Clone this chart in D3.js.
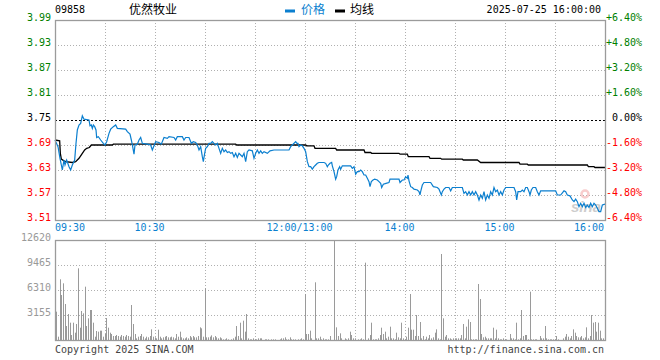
<!DOCTYPE html>
<html>
<head>
<meta charset="utf-8">
<script src="https://cdn.jsdelivr.net/npm/d3@7"></script>
<style>
  body { margin: 0; background: #fff; }
  text { font-family: "DejaVu Sans Mono", monospace; font-size: 10px; }
  .cjk { font-family: "Noto Sans CJK SC", sans-serif; font-size: 12px; }
</style>
</head>
<body>
<div id="chart"></div>
<script>
// chart values
var stockCode = "09858";
var stockName = "优然牧业";
var stamp = "2025-07-25 16:00:00";
var prevClose = 3.75;

var priceTicks = [3.99, 3.93, 3.87, 3.81, 3.75, 3.69, 3.63, 3.57, 3.51];
var pctTicks = ["+6.40%", "+4.80%", "+3.20%", "+1.60%", "0.00%", "-1.60%", "-3.20%", "-4.80%", "-6.40%"];
var volTicks = [12620, 9465, 6310, 3155];
var timeLabels = ["09:30", "10:30", "12:00/13:00", "14:00", "15:00", "16:00"];
var timeLabelMin = [0, 60, 150, 210, 270, 330];

// [trading minute, price]
var priceLine = [
  [0, 3.702], [1.8, 3.686], [3, 3.658], [3.8, 3.642], [4.4, 3.630], [5.4, 3.654], [6, 3.642], [7, 3.654],
  [8.4, 3.638], [9.4, 3.630], [10.4, 3.642], [11.8, 3.654], [12.6, 3.694], [13.4, 3.726], [14.4, 3.738],
  [15.4, 3.742], [16.4, 3.760], [17.4, 3.752], [20.4, 3.750], [21, 3.736], [21.8, 3.738], [22.4, 3.730],
  [23, 3.738], [23.8, 3.734], [24.6, 3.726], [25, 3.708], [26, 3.710], [27.4, 3.702], [29, 3.694],
  [30, 3.690], [31, 3.698], [32.4, 3.718], [33.4, 3.728], [35, 3.734], [36.4, 3.738], [37.4, 3.730],
  [42.4, 3.728], [43.4, 3.722], [45, 3.716], [45.8, 3.702], [46.6, 3.686], [47.4, 3.668], [48, 3.690],
  [49.4, 3.692], [50.4, 3.702], [51.4, 3.708], [52.4, 3.694], [55.4, 3.692], [57.4, 3.690], [58.4, 3.678],
  [59.4, 3.688], [60.4, 3.698], [62.4, 3.696], [63.8, 3.692], [65.4, 3.708], [67.4, 3.706], [68.4, 3.710],
  [71.4, 3.708], [72.4, 3.702], [73.4, 3.710], [76.4, 3.710], [77.4, 3.702], [78.4, 3.708], [80.4, 3.708],
  [81.8, 3.694], [83, 3.698], [84.4, 3.696], [85.4, 3.690], [86.4, 3.678], [87.4, 3.686], [88.4, 3.662],
  [89, 3.650], [89.8, 3.670], [90.4, 3.682], [91.4, 3.686], [92.4, 3.694], [93.4, 3.694], [94.4, 3.698],
  [95.4, 3.694], [96.4, 3.690], [97.4, 3.694], [98.4, 3.682], [99.4, 3.670], [100.4, 3.682], [101.4, 3.674],
  [102.4, 3.678], [103.4, 3.672], [104.4, 3.674], [105.4, 3.670], [106.4, 3.672], [107.4, 3.662],
  [108.4, 3.670], [109.4, 3.660], [110.4, 3.670], [111.4, 3.666], [112.4, 3.662], [113.4, 3.670],
  [114.4, 3.650], [115.4, 3.674], [116.4, 3.678], [118.4, 3.676], [119.4, 3.658], [120.4, 3.670],
  [121.4, 3.678], [122.4, 3.670], [123.4, 3.676], [124.4, 3.670], [125.4, 3.674], [127.4, 3.670],
  [129, 3.676], [131.4, 3.678], [140.4, 3.678], [141.4, 3.686], [142.4, 3.690], [144.4, 3.698],
  [145.2, 3.694], [145.8, 3.694], [146.4, 3.686], [147.4, 3.690], [148.4, 3.688], [149.4, 3.682],
  [150.4, 3.674], [151.4, 3.650], [152.4, 3.638], [153.4, 3.638], [154.4, 3.632], [155.4, 3.638],
  [156.4, 3.642], [157.4, 3.646], [158.4, 3.648], [161.4, 3.648], [162.4, 3.646], [163.4, 3.638],
  [164, 3.642], [165, 3.646], [166, 3.648], [166.4, 3.640], [167.4, 3.626], [168.4, 3.608], [169, 3.614],
  [169.8, 3.630], [170.8, 3.638], [171.4, 3.632], [172.4, 3.640], [177.4, 3.640], [178.4, 3.634],
  [179.4, 3.638], [180.4, 3.620], [181.4, 3.626], [182.4, 3.626], [183.4, 3.630], [184.4, 3.626],
  [185.4, 3.618], [186.4, 3.618], [187.4, 3.610], [188.4, 3.602], [189, 3.590], [189.8, 3.602],
  [190.8, 3.606], [191.8, 3.608], [193.4, 3.606], [194.4, 3.602], [195.4, 3.598], [196, 3.588],
  [197, 3.596], [198.6, 3.598], [200.4, 3.600], [201, 3.608], [206.4, 3.608], [207, 3.600], [208.4, 3.606],
  [209.4, 3.606], [210.4, 3.614], [211.4, 3.610], [211.8, 3.618], [212.4, 3.604], [213.4, 3.590],
  [214.4, 3.588], [215.4, 3.584], [217.4, 3.582], [218.4, 3.578], [219, 3.570], [219.4, 3.578],
  [220.4, 3.594], [221.4, 3.600], [225.4, 3.600], [227, 3.590], [229.4, 3.588], [230.4, 3.584],
  [231.8, 3.570], [232.4, 3.578], [233.4, 3.584], [234.4, 3.588], [236.4, 3.588], [237.4, 3.580],
  [238.4, 3.588], [244.4, 3.588], [245.4, 3.574], [246.4, 3.578], [247.4, 3.570], [248.4, 3.578],
  [249.4, 3.570], [250.4, 3.578], [251.4, 3.570], [252.4, 3.578], [253.4, 3.570], [254.4, 3.558],
  [255.4, 3.570], [256.4, 3.562], [257.4, 3.578], [258.4, 3.558], [259.4, 3.570], [260.4, 3.562],
  [261.4, 3.578], [262.4, 3.570], [263.4, 3.588], [264.4, 3.578], [265.4, 3.582], [266.4, 3.570],
  [267.4, 3.578], [268.4, 3.570], [269.4, 3.582], [270.4, 3.588], [275.4, 3.588], [276.4, 3.578],
  [277, 3.558], [277.8, 3.578], [279.4, 3.578], [280.4, 3.582], [281.4, 3.578], [282.4, 3.588],
  [283.4, 3.588], [284.4, 3.578], [285, 3.570], [285.8, 3.582], [286.8, 3.588], [288.4, 3.588],
  [289.4, 3.578], [290.4, 3.570], [291.4, 3.580], [300.4, 3.580], [301.4, 3.570], [303.4, 3.570],
  [305.4, 3.580], [306.4, 3.578], [307.4, 3.570], [309, 3.568], [310.4, 3.558], [311.4, 3.554],
  [312.4, 3.560], [313.4, 3.554], [314.4, 3.542], [315.4, 3.550], [316.4, 3.542], [317.4, 3.550],
  [318.4, 3.540], [319.4, 3.546], [320.4, 3.540], [321.4, 3.550], [322.4, 3.542], [323.4, 3.550],
  [324.4, 3.546], [325.4, 3.538], [326.4, 3.530], [327.4, 3.530], [328.4, 3.546], [330, 3.548]
];

// [trading minute, average price]
var avgLine = [
  [0, 3.702], [2.8, 3.700], [3.2, 3.670], [3.8, 3.656], [5.4, 3.652], [6.4, 3.650], [10.4, 3.648],
  [12.4, 3.650], [14.4, 3.658], [16.4, 3.670], [17.8, 3.678], [19, 3.682], [20.6, 3.684], [21.8, 3.690],
  [34.4, 3.690], [35, 3.692], [108.4, 3.692], [109, 3.690], [150.4, 3.690], [151, 3.688], [155.4, 3.688],
  [156, 3.682], [168.4, 3.682], [169, 3.678], [185.4, 3.678], [186, 3.672], [189.4, 3.672], [190, 3.670],
  [206.4, 3.670], [207, 3.668], [211.4, 3.668], [212, 3.662], [224.4, 3.662], [225, 3.658], [231.4, 3.658],
  [232, 3.656], [244.4, 3.656], [245, 3.654], [253.4, 3.654], [255.4, 3.648], [278.4, 3.648], [279, 3.644],
  [283.4, 3.644], [284, 3.642], [319.4, 3.642], [320, 3.638], [323.4, 3.638], [324, 3.636], [330, 3.636]
];

// volume for each trading minute 0..330
var volume = [
  0, 3576, 420, 7660, 5679, 7152, 4543, 1767, 3281, 2187,
  631, 2187, 925, 2020, 9045, 1556, 3660, 3366, 6730, 1767,
  2734, 3786, 3786, 2187, 420, 1136, 1052, 1178, 1178, 420,
  757, 2776, 1556, 925, 757, 505, 505, 631, 505, 420,
  631, 505, 420, 631, 505, 420, 4417, 2020, 757, 210,
  420, 505, 757, 420, 210, 420, 336, 505, 1346, 420,
  336, 210, 1304, 420, 210, 336, 420, 505, 336, 336,
  420, 336, 210, 757, 420, 1052, 336, 210, 210, 336,
  210, 505, 336, 505, 336, 336, 505, 1598, 1472, 420,
  6520, 336, 336, 420, 589, 336, 505, 336, 210, 336,
  210, 84, 84, 210, 84, 0, 84, 210, 420, 1767,
  505, 2187, 210, 2440, 1052, 3281, 210, 84, 84, 210,
  84, 84, 210, 210, 210, 0, 84, 84, 84, 0,
  84, 84, 84, 0, 0, 84, 210, 210, 336, 84,
  84, 336, 84, 84, 84, 0, 84, 84, 210, 84,
  5805, 757, 757, 1178, 210, 0, 7281, 210, 210, 420,
  84, 210, 84, 84, 84, 505, 0, 0, 12600, 1598,
  505, 841, 210, 0, 210, 84, 210, 1052, 631, 210,
  210, 0, 84, 84, 210, 84, 9760, 0, 210, 631,
  2187, 84, 84, 84, 210, 631, 1556, 757, 1052, 210,
  420, 1683, 210, 210, 84, 925, 336, 210, 2187, 210,
  84, 420, 1556, 5805, 1304, 1304, 505, 3155, 505, 2271,
  210, 505, 84, 420, 210, 631, 210, 336, 925, 1346,
  210, 84, 10853, 2734, 420, 631, 210, 210, 84, 210,
  210, 210, 210, 210, 631, 2020, 210, 1683, 2608, 2271,
  84, 84, 84, 84, 7067, 5174, 757, 336, 420, 210,
  210, 210, 210, 1556, 210, 1304, 210, 84, 84, 210,
  84, 84, 0, 757, 210, 210, 84, 2187, 84, 210,
  3786, 505, 631, 631, 84, 6100, 84, 84, 84, 84,
  0, 505, 210, 210, 1767, 210, 84, 84, 84, 84,
  84, 505, 84, 0, 0, 210, 420, 757, 420, 210,
  505, 1346, 925, 505, 336, 336, 505, 210, 336, 1598,
  210, 505, 3155, 2187, 2271, 1052, 2187, 1178, 210, 210,
  420
];

// set up chart
var svgWidth = 660;
var svgHeight = 360;
var left = 55, right = 605;
var pTop = 20, pBottom = 220;
var vTop = 240, vBottom = 340;

var blue = "#0b7fcf";
var green = "#008000";
var red = "#ff0000";
var frameColor = "#9b9b9b";
var gridColor = "#b0b0b0";

var svg = d3.select("#chart")
  .append("svg")
  .attr("width", svgWidth)
  .attr("height", svgHeight);

var xScale = d3.scaleLinear().domain([0, 330]).range([left, right]);
var yScale = d3.scaleLinear().domain([3.51, 3.99]).range([pBottom, pTop]);
var vScale = d3.scaleLinear().domain([0, 12620]).range([vBottom, vTop]);

var gridMins = d3.range(30, 330, 30);

// vertical grid, both panes
[[pTop, pBottom], [vTop, vBottom]].forEach(function (pane) {
  svg.append("g")
    .selectAll("line")
    .data(gridMins)
    .enter()
    .append("line")
    .attr("x1", (d) => Math.round(xScale(d)) + 0.5)
    .attr("x2", (d) => Math.round(xScale(d)) + 0.5)
    .attr("y1", pane[0])
    .attr("y2", pane[1])
    .attr("stroke", gridColor)
    .attr("stroke-dasharray", "1,2");
});

// horizontal grid, price pane
svg.append("g")
  .selectAll("line")
  .data(priceTicks.filter((d) => d !== prevClose && d !== 3.99 && d !== 3.51))
  .enter()
  .append("line")
  .attr("x1", left)
  .attr("x2", right)
  .attr("y1", (d) => Math.round(yScale(d)) + 0.5)
  .attr("y2", (d) => Math.round(yScale(d)) + 0.5)
  .attr("stroke", gridColor)
  .attr("stroke-dasharray", "1,2");

// horizontal grid, volume pane
svg.append("g")
  .selectAll("line")
  .data(volTicks.slice(1))
  .enter()
  .append("line")
  .attr("x1", left)
  .attr("x2", right)
  .attr("y1", (d) => Math.round(vScale(d)) + 0.5)
  .attr("y2", (d) => Math.round(vScale(d)) + 0.5)
  .attr("stroke", gridColor)
  .attr("stroke-dasharray", "1,2");

// previous close
svg.append("line")
  .attr("x1", left)
  .attr("x2", right)
  .attr("y1", Math.round(yScale(prevClose)) + 0.5)
  .attr("y2", Math.round(yScale(prevClose)) + 0.5)
  .attr("stroke", "#000")
  .attr("stroke-dasharray", "2,2");

// volume bars
svg.append("g")
  .selectAll("rect")
  .data(volume)
  .enter()
  .append("rect")
  .attr("x", (d, i) => Math.floor(xScale(i)))
  .attr("y", (d) => vScale(d))
  .attr("width", 1)
  .attr("height", (d) => vBottom - vScale(d))
  .attr("fill", "#9a9a9a");

// watermark
var mark = svg.append("g").attr("opacity", 0.5);
mark.append("circle")
  .attr("cx", 585).attr("cy", 194).attr("r", 3.5)
  .attr("fill", "none").attr("stroke", "#f29a9a").attr("stroke-width", 2.5);
mark.append("text")
  .attr("x", 571).attr("y", 212)
  .attr("fill", "#9c9c9c")
  .style("font-family", "Liberation Sans, sans-serif")
  .style("font-size", "15px")
  .style("font-style", "italic")
  .style("font-weight", "bold")
  .text("sina");

// lines
var line = d3.line()
  .x((d) => xScale(d[0]))
  .y((d) => yScale(d[1]));

svg.append("path")
  .datum(avgLine)
  .attr("d", line)
  .attr("fill", "none")
  .attr("stroke", "#000")
  .attr("stroke-width", 1.3);

svg.append("path")
  .datum(priceLine)
  .attr("d", line)
  .attr("fill", "none")
  .attr("stroke", blue)
  .attr("stroke-width", 1.2);

// frames
svg.append("rect")
  .attr("x", left + 0.5).attr("y", pTop + 0.5)
  .attr("width", right - left).attr("height", pBottom - pTop)
  .attr("fill", "none").attr("stroke", frameColor).attr("stroke-width", 1.3);

svg.append("rect")
  .attr("x", left + 0.5).attr("y", vTop + 0.5)
  .attr("width", right - left).attr("height", vBottom - vTop)
  .attr("fill", "none").attr("stroke", frameColor).attr("stroke-width", 1.3);

// price labels left
svg.append("g")
  .selectAll("text")
  .data(priceTicks)
  .enter()
  .append("text")
  .attr("x", 51)
  .attr("y", (d) => yScale(d) + 1)
  .attr("text-anchor", "end")
  .attr("fill", (d) => (d > prevClose ? green : d < prevClose ? red : "#000"))
  .text((d) => d.toFixed(2));

// percent labels right
svg.append("g")
  .selectAll("text")
  .data(pctTicks)
  .enter()
  .append("text")
  .attr("x", 642)
  .attr("y", (d, i) => yScale(priceTicks[i]) + 1)
  .attr("text-anchor", "end")
  .attr("fill", (d) => (d[0] === "+" ? green : d[0] === "-" ? red : "#000"))
  .text((d) => d);

// volume labels
svg.append("g")
  .selectAll("text")
  .data(volTicks)
  .enter()
  .append("text")
  .attr("x", 51)
  .attr("y", (d) => vScale(d) + 0.5)
  .attr("text-anchor", "end")
  .attr("fill", "#999")
  .text((d) => d);

// time labels
svg.append("g")
  .selectAll("text")
  .data(timeLabels)
  .enter()
  .append("text")
  .attr("x", (d, i) => {
    if (i === 0) return left;
    if (i === timeLabels.length - 1) return right - 1;
    return xScale(timeLabelMin[i]) - 5.5;
  })
  .attr("y", 231)
  .attr("text-anchor", (d, i) => (i === 0 ? "start" : i === timeLabels.length - 1 ? "end" : "middle"))
  .attr("fill", blue)
  .text((d) => d);

// header
svg.append("text").attr("x", 55).attr("y", 12.5).attr("fill", "#000").text(stockCode);
svg.append("text").attr("class", "cjk").attr("x", 129).attr("y", 14).attr("fill", "#000").text(stockName);

svg.append("rect").attr("x", 285).attr("y", 9.5).attr("width", 10).attr("height", 3).attr("fill", blue);
svg.append("text").attr("class", "cjk").attr("x", 301).attr("y", 14).attr("fill", blue).text("价格");
svg.append("rect").attr("x", 335).attr("y", 9.5).attr("width", 10).attr("height", 3).attr("fill", "#000");
svg.append("text").attr("class", "cjk").attr("x", 350).attr("y", 14).attr("fill", "#000").text("均线");

svg.append("text").attr("x", 601).attr("y", 12.5).attr("text-anchor", "end").attr("fill", "#000").text(stamp);

// footer
svg.append("text").attr("x", 55).attr("y", 353).attr("fill", "#444").text("Copyright 2025 SINA.COM");
svg.append("text").attr("x", 604).attr("y", 353).attr("text-anchor", "end").attr("fill", "#444")
  .text("http://finance.sina.com.cn");
</script>
</body>
</html>
